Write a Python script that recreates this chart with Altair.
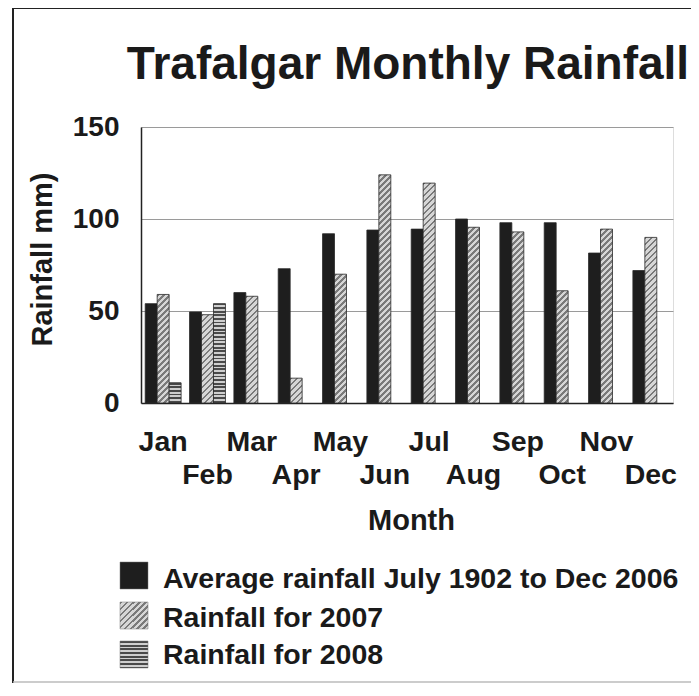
import math
import altair as alt

# ---- data ----
months = ["Jan", "Feb", "Mar", "Apr", "May", "Jun", "Jul", "Aug", "Sep", "Oct", "Nov", "Dec"]
series_names = ["Average rainfall July 1902 to Dec 2006", "Rainfall for 2007", "Rainfall for 2008"]
avg_rain = [54, 49.5, 60, 73, 92, 94, 94.5, 100, 98, 98, 81.5, 72]
rain_2007 = [59, 48, 58, 13.5, 70, 124, 119.5, 95.5, 93, 61, 94.5, 90]
rain_2008 = [11, 54, None, None, None, None, None, None, None, None, None, None]
y_ticks = [0, 50, 100, 150]
chart_title = "Trafalgar Monthly Rainfall"
x_title = "Month"
y_title = "Rainfall mm)"

FONT = "Liberation Sans"
W, H = 532, 276
Y_MAX = 150
PAD_IN, PAD_OUT = 0.19, 0.095

step = W / (len(months) - PAD_IN + 2 * PAD_OUT)
bar_w = step * (1 - PAD_IN) / len(series_names)

DARK = "#1e1e1e"
H07_LIGHT, H07_DARK = "#d6d6d6", "#7a7a7a"
H08_LIGHT, H08_DARK = "#cfcfcf", "#4a4a4a"


def diag_gradient(w, h, period=6.0, dark_frac=0.42):
    """Stripes running '/' in screen space, expressed in bbox units."""
    w = max(w, 0.5)
    h = max(h, 0.5)
    k = (w + h) / (w * w + h * h)
    span = w + h
    stops = []
    n = int(math.ceil(span / period)) + 1
    for i in range(n):
        a = i * period / span
        b = (i + dark_frac) * period / span
        c = (i + 1) * period / span
        for off, col in ((a, H07_DARK), (b, H07_DARK), (b, H07_LIGHT), (c, H07_LIGHT)):
            stops.append({"offset": min(max(off, 0.0), 1.0), "color": col})
        if c >= 1:
            break
    return {"gradient": "linear", "x1": 0, "y1": 0, "x2": w * k, "y2": h * k, "stops": stops}


def horiz_gradient(h, period=3.6, dark_frac=0.5):
    h = max(h, 0.5)
    stops = []
    n = int(math.ceil(h / period)) + 1
    for i in range(n):
        a = i * period / h
        b = (i + dark_frac) * period / h
        c = (i + 1) * period / h
        for off, col in ((a, H08_DARK), (b, H08_DARK), (b, H08_LIGHT), (c, H08_LIGHT)):
            stops.append({"offset": min(max(off, 0.0), 1.0), "color": col})
        if c >= 1:
            break
    return {"gradient": "linear", "x1": 0.5, "y1": 0, "x2": 0.5, "y2": 1, "stops": stops}


rows = []
for i, m in enumerate(months):
    for s, vals in zip(series_names, (avg_rain, rain_2007, rain_2008)):
        v = vals[i]
        if v is None:
            continue
        h_px = v / Y_MAX * H
        if s == series_names[0]:
            fill = DARK
        elif s == series_names[1]:
            fill = diag_gradient(bar_w, h_px)
        else:
            fill = horiz_gradient(h_px)
        rows.append({"month": m, "series": s, "rain": v, "fill": fill})

label_expr = ("indexof(" + str(months) + ", datum.value) % 2 == 1 "
              "? ['', datum.value] : datum.value")

bars = alt.Chart(alt.InlineData(values=rows)).mark_bar(stroke="#2a2a2a", strokeWidth=0.8).encode(
    x=alt.X("month:N", sort=months,
            scale=alt.Scale(paddingInner=PAD_IN, paddingOuter=PAD_OUT),
            axis=alt.Axis(title=x_title, labelAngle=0, ticks=False, labelPadding=24,
                          labelExpr=label_expr, labelLineHeight=33, labelOverlap=False,
                          labelBound=False, labelFlush=False,
                          labelFont=FONT, labelFontSize=28.5, labelFontWeight="bold", labelColor="#1a1a1a",
                          titleFont=FONT, titleFontSize=29, titleFontWeight="bold", titleColor="#1a1a1a",
                          titleBaseline="alphabetic", titleY=126, titleX=W / 2 + 4,
                          domainColor="#222222", domainWidth=1.5, grid=False)),
    xOffset=alt.XOffset("series:N", sort=series_names, scale=alt.Scale(domain=series_names, paddingInner=0)),
    y=alt.Y("rain:Q", scale=alt.Scale(domain=[0, Y_MAX], nice=False),
            axis=alt.Axis(title=y_title, values=y_ticks, ticks=False, labelPadding=22,
                          labelFont=FONT, labelFontSize=28, labelFontWeight="bold", labelColor="#1a1a1a",
                          titleFont=FONT, titleFontSize=29, titleFontWeight="bold", titleColor="#1a1a1a",
                          titleAngle=270, titleBaseline="alphabetic", titleAlign="center",
                          titleX=-90, titleY=132,
                          domainColor="#222222", domainWidth=1.5,
                          gridColor="#9a9a9a", gridWidth=1)),
    color=alt.Color("fill:N", scale=None),
)

dummy = alt.InlineData(values=[{"k": 1}])

# chart title as a text mark (keeps it clear of the frame lines)
title_mark = alt.Chart(dummy).mark_text(text=chart_title, align="center", baseline="alphabetic",
                                        font=FONT, fontSize=46, fontWeight="bold", color="#1a1a1a").encode(
    x=alt.value(W / 2 + 1), y=alt.value(-48))

# frame of the figure
frame_top = alt.Chart(dummy).mark_rule(color="#222222", strokeWidth=2).encode(
    x=alt.value(-128), x2=alt.value(600), y=alt.value(-119))
frame_left = alt.Chart(dummy).mark_rule(color="#222222", strokeWidth=2).encode(
    x=alt.value(-128), y=alt.value(-119), y2=alt.value(556))
frame_bottom = alt.Chart(dummy).mark_rule(color="#bbbbbb", strokeWidth=1.5).encode(
    x=alt.value(-128), x2=alt.value(600), y=alt.value(555))

# legend
legend_fills = [DARK, diag_gradient(27, 27), horiz_gradient(27, period=3.7)]
legend_tops = [435, 475, 514]
legend_baselines = [461, 500, 537]
legend_layers = []
for name, fill, top, base in zip(series_names, legend_fills, legend_tops, legend_baselines):
    legend_layers.append(
        alt.Chart(dummy).mark_rect(fill=fill, stroke="#777777", strokeWidth=0.5).encode(
            x=alt.value(-21), x2=alt.value(7), y=alt.value(top), y2=alt.value(top + 27)))
    legend_layers.append(
        alt.Chart(dummy).mark_text(text=name, align="left", baseline="alphabetic", font=FONT,
                                   fontSize=28.5, fontWeight="bold", color="#1a1a1a").encode(
            x=alt.value(22), y=alt.value(base)))

chart = alt.layer(bars, title_mark, frame_top, frame_left, frame_bottom, *legend_layers).properties(
    width=W, height=H,
    autosize=alt.AutoSizeParams(type="none"),
    padding={"left": 133, "top": 119, "right": 18, "bottom": 281},
).configure_view(stroke="#9a9a9a", strokeWidth=1).configure(background="white")

chart.save("out.html", embed_options={"renderer": "svg", "actions": False})
